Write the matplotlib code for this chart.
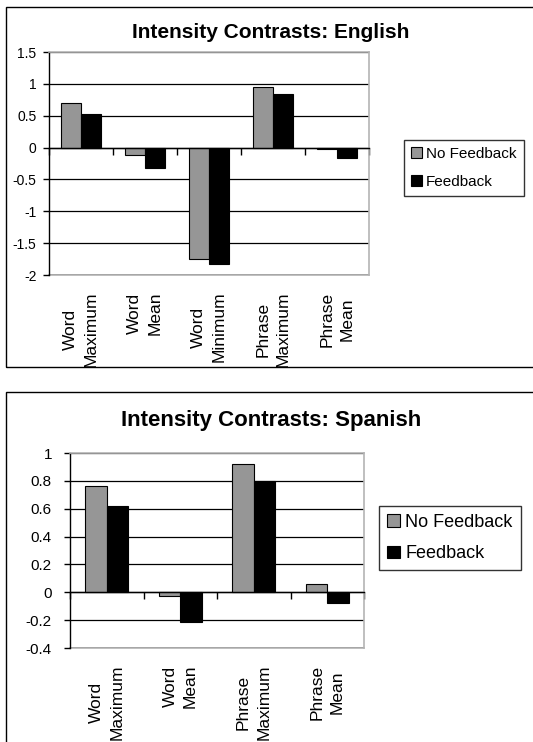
import matplotlib
matplotlib.use("Agg")
import matplotlib.pyplot as plt
from matplotlib.patches import Rectangle
import numpy as np

plt.rcParams['font.family'] = ['Liberation Sans', 'DejaVu Sans']

# ---- data ----
eng_categories = ["Word\nMaximum", "Word\nMean", "Word\nMinimum", "Phrase\nMaximum", "Phrase\nMean"]
eng_no_feedback = [0.70, -0.12, -1.75, 0.95, -0.02]
eng_feedback = [0.53, -0.32, -1.82, 0.84, -0.17]
eng_yticks = [1.5, 1, 0.5, 0, -0.5, -1, -1.5, -2]

spa_categories = ["Word\nMaximum", "Word\nMean", "Phrase\nMaximum", "Phrase\nMean"]
spa_no_feedback = [0.76, -0.03, 0.92, 0.06]
spa_feedback = [0.62, -0.21, 0.80, -0.08]
spa_yticks = [1, 0.8, 0.6, 0.4, 0.2, 0, -0.2, -0.4]

series_names = ["No Feedback", "Feedback"]
colors = ["#969696", "#000000"]

W, H = 533, 742
fig = plt.figure(figsize=(W / 100, H / 100), dpi=100)


def fbox(left, top, right, bottom):
    return [left / W, 1 - bottom / H, (right - left) / W, (bottom - top) / H]


def panel(rect, cats, nf, fb, yticks, barw, title, title_xy, title_size,
          tick_size, cat_size, leg_anchor, leg_size, leg_spacing, ypad, frame_rect):
    ax = fig.add_axes(rect)
    x = np.arange(len(cats))
    ax.bar(x - barw / 2, nf, barw, color=colors[0], edgecolor="black", linewidth=0.8,
           label=series_names[0], zorder=2)
    ax.bar(x + barw / 2, fb, barw, color=colors[1], edgecolor="black", linewidth=0.8,
           label=series_names[1], zorder=2)
    ax.set_xlim(-0.5, len(cats) - 0.5)
    ax.set_ylim(min(yticks), max(yticks))
    ax.set_yticks(yticks)
    ax.set_yticklabels([f"{v:g}" for v in yticks], fontsize=tick_size)
    ax.tick_params(axis="y", direction="out", length=4, width=1, pad=ypad, colors="black")
    ax.yaxis.grid(True, color="black", linewidth=0.9)
    ax.set_axisbelow(True)
    for s in ("top", "right"):
        ax.spines[s].set_color("#b4b4b4")
        ax.spines[s].set_linewidth(1.2)
    ax.spines["left"].set_color("black")
    ax.spines["left"].set_linewidth(1.0)
    # zero axis line with boundary ticks
    ax.spines["bottom"].set_position(("data", 0))
    ax.spines["bottom"].set_color("black")
    ax.spines["bottom"].set_linewidth(1.0)
    ax.set_xticks(np.arange(len(cats) + 1) - 0.5)
    ax.tick_params(axis="x", direction="out", length=5, width=1, labelbottom=False)
    # category labels at the bottom of the plot area
    sec = ax.secondary_xaxis("bottom")
    sec.set_xticks(x)
    sec.set_xticklabels(cats, rotation=90, fontsize=cat_size, ha="center", va="top",
                        multialignment="center", linespacing=1.45)
    sec.tick_params(axis="x", length=0, pad=12)
    sec.spines["bottom"].set_color("#b4b4b4")
    sec.spines["bottom"].set_linewidth(1.2)

    fig.text(title_xy[0] / W, 1 - title_xy[1] / H, title, ha="center", va="center",
             fontsize=title_size, fontweight="bold")

    leg = fig.legend(*ax.get_legend_handles_labels(), loc="center left",
                     bbox_to_anchor=(leg_anchor[0] / W, 1 - leg_anchor[1] / H),
                     fontsize=leg_size, frameon=True, fancybox=False, shadow=False,
                     handlelength=0.7, handleheight=0.7, handletextpad=0.3,
                     borderpad=0.45, labelspacing=leg_spacing, borderaxespad=0)
    leg.get_frame().set_edgecolor("black")
    leg.get_frame().set_linewidth(1.0)

    l, t, r, b = frame_rect
    fig.add_artist(Rectangle((l / W, 1 - b / H), (r - l) / W, (b - t) / H,
                             transform=fig.transFigure, fill=False, edgecolor="black",
                             linewidth=1.0, clip_on=False))
    return ax


panel(fbox(49, 52, 369, 275), eng_categories, eng_no_feedback, eng_feedback, eng_yticks,
      0.31, "Intensity Contrasts: English", (271, 32), 15, 10, 12.5,
      (404, 168), 11, 0.9, 5, (6, 7, 560, 367))

panel(fbox(70, 453, 364, 648), spa_categories, spa_no_feedback, spa_feedback, spa_yticks,
      0.29, "Intensity Contrasts: Spanish", (271, 421), 16, 11, 12.5,
      (379, 538), 13, 0.8, 9, (6, 392, 560, 800))

fig.savefig("out.png", dpi=100)
